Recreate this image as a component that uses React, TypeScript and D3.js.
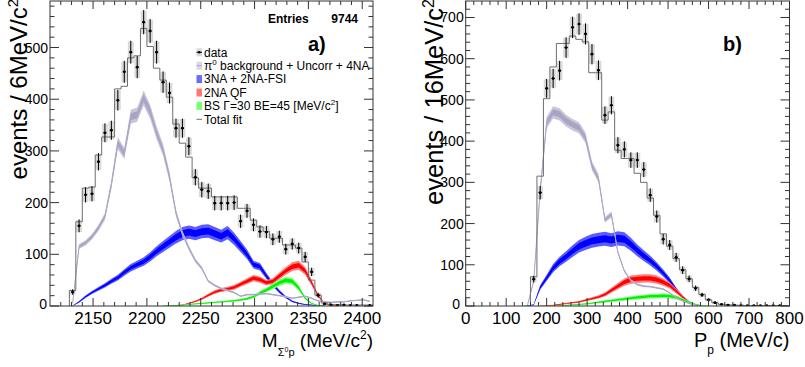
import * as d3 from 'd3';

const FONT = '"Liberation Sans", Arial, Helvetica, sans-serif';

// a) M(Σ0 p): 6 MeV/c² bins, first bin starts at 2128
const massBinLow = 2128;
const massBinWidth = 6;
const massCounts = [27, 155, 215, 217, 279, 335, 340, 398, 453, 491, 462, 549, 532, 491, 433, 412, 344, 344, 309, 249,
  225, 222, 199, 199, 199, 200, 164, 184, 157, 144, 143, 129, 134, 110, 120, 112, 95, 66, 21, 4, 2, 1, 2, 1, 1, 0, 1];
const massTotalFit = [30, 163, 228, 230, 292, 327, 327, 420, 425, 480, 484, 537, 502, 460, 437, 404, 352, 315, 288, 248,
  228, 228, 211, 211, 211, 211, 189, 189, 166, 153, 144, 131, 131, 118, 118, 112, 85, 50, 21, 6, 3, 3, 2, 2, 2, 2, 2];
const massPi0Bkg = [5, 115, 122, 134, 151, 173, 235, 315, 295, 366, 370, 402, 376, 335, 302, 250, 180, 140, 112, 88,
  73, 48, 40, 34, 30, 26, 19, 22, 22, 23, 24, 22, 20, 18, 15, 17, 19, 15, 10, 8, 7, 8, 8, 10, 11, 12, 9];
const mass3NA = [0, 8, 18, 26, 33, 40, 48, 55, 65, 74, 80, 86, 95, 106, 115, 124, 133, 140, 143, 140,
  144, 145, 140, 135, 142, 130, 115, 100, 80, 76, 58, 42, 28, 17, 9, 5, 3, 2, 1, 0, 0, 0, 0, 0, 0, 0, 0];
const mass2NAQF = [0, 0, 0, 0, 0, 0, 0, 0, 0, 0, 0, 0, 0, 0, 0, 0, 1, 2, 5, 9,
  14, 21, 27, 31, 33, 36, 42, 48, 54, 51, 45, 48, 58, 68, 76, 79, 68, 45, 20, 5, 1, 0, 0, 0, 0, 0, 0];
const massBS = [0, 0, 0, 0, 0, 0, 0, 0, 0, 0, 0, 0, 0, 0, 0, 1, 1, 2, 3, 4,
  5, 6, 7, 8, 9, 10, 12, 14, 18, 25, 31, 38, 45, 50, 48, 35, 15, 5, 1, 0, 0, 0, 0, 0, 0, 0, 0];
const massXTicks = [2150, 2200, 2250, 2300, 2350, 2400];
const massYTicks = [0, 100, 200, 300, 400, 500];

// b) P_p: 16 MeV/c bins, first bin starts at 144
const momBinLow = 144;
const momBinWidth = 16;
const momCounts = [0, 65, 275, 528, 552, 571, 627, 676, 684, 660, 611, 572, 463, 487, 390, 380, 354, 354, 331, 269,
  217, 162, 148, 118, 87, 66, 43, 27, 15, 8, 4, 2, 2, 1, 1, 1, 1, 1, 1, 1, 0];
const momTotalFit = [0, 71, 315, 503, 580, 637, 637, 655, 647, 641, 566, 566, 451, 471, 378, 358, 358, 322, 300, 262,
  220, 175, 145, 115, 88, 66, 45, 28, 15, 8, 4, 3, 2, 2, 1, 1, 1, 1, 1, 1, 1];
const momPi0Bkg = [0, 60, 280, 445, 470, 465, 450, 440, 432, 408, 340, 310, 209, 222, 130, 85, 62, 52, 48, 47,
  44, 41, 32, 20, 12, 6, 2, 0, 0, 0, 0, 0, 0, 0, 0, 0, 0, 0, 0, 0, 0];
const mom3NA = [0, 3, 45, 68, 92, 108, 120, 133, 145, 152, 158, 161, 163, 160, 164, 162, 150, 135, 122, 110,
  96, 80, 62, 40, 22, 10, 3, 0, 0, 0, 0, 0, 0, 0, 0, 0, 0, 0, 0, 0, 0];
const mom2NAQF = [0, 0, 0, 1, 2, 4, 6, 8, 10, 14, 18, 22, 28, 38, 48, 58, 64, 66, 67, 67,
  64, 58, 50, 36, 22, 9, 3, 0, 0, 0, 0, 0, 0, 0, 0, 0, 0, 0, 0, 0, 0];
const momBS = [0, 0, 0, 0, 0, 1, 2, 3, 4, 5, 7, 9, 11, 13, 15, 17, 19, 21, 22, 24,
  24, 25, 24, 21, 15, 9, 4, 1, 0, 0, 0, 0, 0, 0, 0, 0, 0, 0, 0, 0, 0];
const momXTicks = [0, 100, 200, 300, 400, 500, 600, 700, 800];
const momYTicks = [0, 100, 200, 300, 400, 500, 600, 700];

const TOP = 1;
const BOTTOM = 306;

type Series = { values: number[]; rel: number; outer: string; inner: string; line?: string };

interface PanelProps {
  id: string;
  left: number;
  right: number;
  xDomain: [number, number];
  yMax: number;
  binLow: number;
  binWidth: number;
  counts: number[];
  fit: number[];
  comps: Series[];
  xTicks: number[];
  yTicks: number[];
  xMinor: number;
  yMinor: number;
  zeroLabelX: number;
}

function minorTicks(lo: number, hi: number, step: number, major: number[]) {
  const out: number[] = [];
  for (let t = Math.ceil(lo / step) * step; t <= hi + 1e-6; t += step) {
    const r = Math.round(t * 1000) / 1000;
    if (!major.includes(r) && r > lo && r < hi) out.push(r);
  }
  return out;
}

function Panel(p: PanelProps) {
  const x = d3.scaleLinear().domain(p.xDomain).range([p.left, p.right]);
  const y = d3.scaleLinear().domain([0, p.yMax]).range([BOTTOM, TOP]);
  const centre = (i: number) => x(p.binLow + p.binWidth * (i + 0.5));
  const binPx = x(p.xDomain[0] + p.binWidth) - x(p.xDomain[0]);

  const band = (s: Series, k: number) =>
    d3.area<number>()
      .defined((v, i) => v > 0 || (s.values[i - 1] ?? 0) > 0 || (s.values[i + 1] ?? 0) > 0)
      .x((_, i) => centre(i))
      .y0(v => y(Math.max(0, v - k * (v * s.rel + 0.8))))
      .y1(v => y(v + k * (v * s.rel + 0.8)))(s.values) ?? '';

  const centreLine = (s: Series) =>
    d3.line<number>()
      .defined((v, i) => v > 0 || (s.values[i - 1] ?? 0) > 0 || (s.values[i + 1] ?? 0) > 0)
      .x((_, i) => centre(i))
      .y(v => y(v))(s.values) ?? '';

  const fitPts: [number, number][] = [
    [p.binLow, 0],
    ...p.fit.map((v, i) => [p.binLow + p.binWidth * i, v] as [number, number]),
    [p.binLow + p.binWidth * p.fit.length, p.fit[p.fit.length - 1]],
  ];
  const fitPath = d3.line<[number, number]>()
    .x(d => x(d[0]))
    .y(d => y(d[1]))
    .curve(d3.curveStepAfter)(fitPts) ?? '';

  const xMin = minorTicks(p.xDomain[0], p.xDomain[1], p.xMinor, p.xTicks);
  const yMin = minorTicks(0, p.yMax, p.yMinor, p.yTicks);
  const axisCol = '#333';

  return (
    <g>
      <defs>
        <clipPath id={p.id}>
          <rect x={p.left} y={TOP} width={p.right - p.left} height={BOTTOM - TOP} />
        </clipPath>
      </defs>
      <g clipPath={`url(#${p.id})`}>
        {/* systematic boxes of the data */}
        {p.counts.map((v, i) => v > 0 ? (
          <rect key={'b' + i} x={centre(i) - binPx * 0.45} width={binPx * 0.9}
            y={y(v + Math.sqrt(v) * 0.95)} height={y(0) - y(Math.sqrt(v) * 1.9)} fill="#dadada" />
        ) : null)}
        {p.comps.map((s, j) => (
          <g key={'c' + j}>
            <path d={band(s, 1)} fill={s.outer} />
            <path d={band(s, 0.5)} fill={s.inner} />
            {s.line && <path d={centreLine(s)} fill="none" stroke={s.line} strokeWidth={1} />}
          </g>
        ))}
        <path d={fitPath} fill="none" stroke="#6e6e6e" strokeWidth={1} />
        {p.counts.map((v, i) => v > 0 ? (
          <g key={'d' + i}>
            <line x1={centre(i)} x2={centre(i)} y1={y(v + Math.sqrt(v))} y2={y(Math.max(0, v - Math.sqrt(v)))} stroke="#000" strokeWidth={1} />
            <line x1={centre(i) - 1.6} x2={centre(i) + 1.6} y1={y(v)} y2={y(v)} stroke="#000" strokeWidth={1} />
            <circle cx={centre(i)} cy={y(v)} r={1.4} fill="#000" />
          </g>
        ) : null)}
      </g>

      <rect x={p.left} y={TOP} width={p.right - p.left} height={BOTTOM - TOP} fill="none" stroke={axisCol} strokeWidth={1} />
      {p.xTicks.map(t => (
        <g key={'xt' + t}>
          <line x1={x(t)} x2={x(t)} y1={BOTTOM} y2={BOTTOM - 8} stroke={axisCol} />
          <line x1={x(t)} x2={x(t)} y1={TOP} y2={TOP + 8} stroke={axisCol} />
          <text x={x(t)} y={324} textAnchor="middle" fontSize={17}>{t}</text>
        </g>
      ))}
      {xMin.map(t => (
        <g key={'xm' + t}>
          <line x1={x(t)} x2={x(t)} y1={BOTTOM} y2={BOTTOM - 4} stroke={axisCol} />
          <line x1={x(t)} x2={x(t)} y1={TOP} y2={TOP + 4} stroke={axisCol} />
        </g>
      ))}
      {p.yTicks.map(t => (
        <g key={'yt' + t}>
          <line x1={p.left} x2={p.left + 9} y1={y(t)} y2={y(t)} stroke={axisCol} />
          <line x1={p.right} x2={p.right - 9} y1={y(t)} y2={y(t)} stroke={axisCol} />
          <text x={t === 0 ? p.zeroLabelX : p.left - 2} y={t === 0 ? y(t) + 3 : y(t) + 5}
            textAnchor="end" fontSize={14}>{t}</text>
        </g>
      ))}
      {yMin.map(t => (
        <g key={'ym' + t}>
          <line x1={p.left} x2={p.left + 4.5} y1={y(t)} y2={y(t)} stroke={axisCol} />
          <line x1={p.right} x2={p.right - 4.5} y1={y(t)} y2={y(t)} stroke={axisCol} />
        </g>
      ))}
    </g>
  );
}

const legendRows = [
  { kind: 'data', label: 'data' },
  { kind: 'pi0', label: 'background + Uncorr + 4NA' },
  { kind: 'na3', label: '3NA + 2NA-FSI' },
  { kind: 'qf', label: '2NA QF' },
  { kind: 'bs', label: 'BS Γ=30 BE=45 [MeV/c' },
  { kind: 'fit', label: 'Total fit' },
];

const boxFill: Record<string, string> = { pi0: '#d9d7e8', na3: '#6b6bff', qf: '#ff7878', bs: '#77ff77' };

export default function App() {
  const massComps: Series[] = [
    { values: mass3NA, rel: 0.085, outer: '#5b5bff', inner: '#0000ff' },
    { values: mass2NAQF, rel: 0.1, outer: '#ff7b7b', inner: '#ff0000' },
    { values: massBS, rel: 0.12, outer: '#80ff80', inner: '#00f000' },
    { values: massPi0Bkg, rel: 0.035, outer: '#c9c6dc', inner: '#a8a4c4', line: '#aaa6c6' },
  ];
  const momComps: Series[] = [
    { values: mom3NA, rel: 0.1, outer: '#5b5bff', inner: '#0000ff' },
    { values: mom2NAQF, rel: 0.14, outer: '#ff7b7b', inner: '#ff0000' },
    { values: momBS, rel: 0.2, outer: '#80ff80', inner: '#00f000' },
    { values: momPi0Bkg, rel: 0.03, outer: '#c9c6dc', inner: '#a8a4c4', line: '#aaa6c6' },
  ];

  return (
    <svg width={805} height={367} style={{ position: 'absolute', left: 0, top: 0, background: '#fff' }}
      fontFamily={FONT}>
      <Panel id="clipA" left={50} right={373} xDomain={[2110, 2410]} yMax={590}
        binLow={massBinLow} binWidth={massBinWidth} counts={massCounts} fit={massTotalFit}
        comps={massComps} xTicks={massXTicks} yTicks={massYTicks} xMinor={10} yMinor={20} zeroLabelX={47} />
      <Panel id="clipB" left={465.7} right={789.5} xDomain={[0, 800]} yMax={740}
        binLow={momBinLow} binWidth={momBinWidth} counts={momCounts} fit={momTotalFit}
        comps={momComps} xTicks={momXTicks} yTicks={momYTicks} xMinor={20} yMinor={20} zeroLabelX={460} />

      {/* axis titles */}
      <text transform="translate(27,-1) rotate(-90)" textAnchor="end" fontSize={24}>
        events / 6MeV/c<tspan dy={-9} fontSize={15}>2</tspan>
      </text>
      <text transform="translate(443,-1) rotate(-90)" textAnchor="end" fontSize={25.5}>
        events / 16MeV/c<tspan dy={-9} fontSize={16}>2</tspan>
      </text>
      <text x={373} y={347} textAnchor="end" fontSize={19}>
        M<tspan dy={9} fontSize={11}>Σ</tspan><tspan dy={-4} fontSize={7}>0</tspan><tspan dy={4} fontSize={11}>p</tspan>
        <tspan dy={-9}> (MeV/c</tspan><tspan dy={-8} fontSize={12}>2</tspan><tspan dy={8}>)</tspan>
      </text>
      <text x={789.5} y={347} textAnchor="end" fontSize={20}>
        P<tspan dy={7} fontSize={12}>p</tspan><tspan dy={-7}> (MeV/c)</tspan>
      </text>

      {/* statistics + panel labels */}
      <text x={268} y={23} fontSize={12} fontWeight="bold">Entries</text>
      <text x={358} y={23} fontSize={12} fontWeight="bold" textAnchor="end">9744</text>
      <text x={308} y={51} fontSize={20} fontWeight="bold">a)</text>
      <text x={723} y={51} fontSize={20} fontWeight="bold">b)</text>

      {/* legend */}
      {legendRows.map((r, i) => {
        const cy = 52.3 + i * 13.4;
        return (
          <g key={r.kind}>
            {r.kind === 'data' && (
              <g>
                <rect x={196.5} y={cy - 4} width={5.5} height={8} fill="#dadada" />
                <line x1={196.5} x2={202} y1={cy} y2={cy} stroke="#000" />
                <circle cx={199.2} cy={cy} r={1.3} fill="#000" />
              </g>
            )}
            {boxFill[r.kind] && (
              <g>
                <rect x={196.5} y={cy - 4} width={5.5} height={8} fill={boxFill[r.kind]} />
                {r.kind === 'pi0' && <line x1={196.5} x2={202} y1={cy} y2={cy} stroke="#aaa6c6" />}
              </g>
            )}
            {r.kind === 'fit' && <line x1={196.5} x2={202} y1={cy} y2={cy} stroke="#6e6e6e" />}
            <text x={204} y={cy + 4.2} fontSize={12}>
              {r.kind === 'pi0' && <>π<tspan dy={-5} fontSize={8}>0</tspan><tspan dy={5}> </tspan></>}
              {r.label}
              {r.kind === 'bs' && <><tspan dy={-5} fontSize={8}>2</tspan><tspan dy={5}>]</tspan></>}
            </text>
          </g>
        );
      })}
    </svg>
  );
}
